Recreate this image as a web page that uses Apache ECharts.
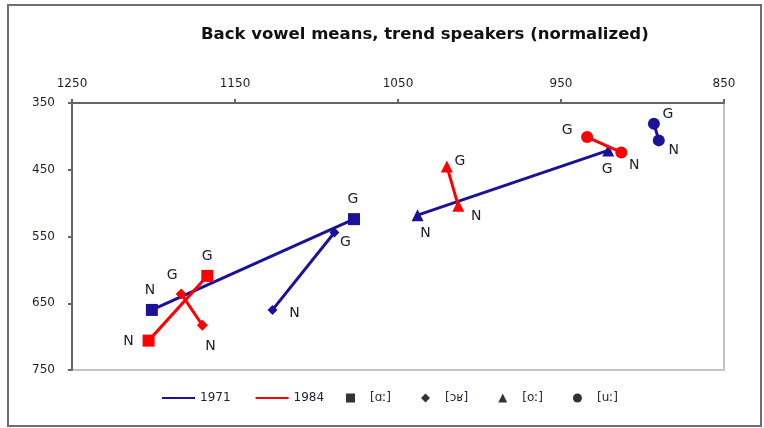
<!DOCTYPE html>
<html>
<head>
<meta charset="utf-8">
<script src="https://cdn.jsdelivr.net/npm/echarts@6/dist/echarts.min.js"></script>
<style>
  html, body { margin: 0; padding: 0; background: #fff; }
  #chart { width: 764px; height: 428px; }
</style>
</head>
<body>
<div id="chart"></div>
<script>
// vowels, in order: square, diamond, triangle, circle
const vowels = ['[ɑː]', '[ɔʁ]', '[oː]', '[uː]']
const years = ['1971', '1984']
const xTicks = [1250, 1150, 1050, 950, 850]
const yTicks = [350, 450, 550, 650, 750]

// [F2, F1] means; N = first point, G = second point
const n1971 = [[1201, 660], [1127, 660], [1038, 518], [890, 406]]
const g1971 = [[1077, 524], [1089, 544], [921, 421], [893, 381]]
const n1984 = [[1203, 706], [1170, 683], [1013, 504], [913, 424]]
const g1984 = [[1167, 609], [1183, 636], [1020, 445], [934, 401]]

const colors = { '1971': '#1c1297', '1984': '#ff0000' }
const symbols = ['rect', 'diamond', 'triangle', 'circle']
const sizes = {
  '1971': [12, 10, 12, 12],
  '1984': [12, 11, 12, 12]
}
// label offsets for N / G, per year and vowel
const labelOffsets = {
  '1971': [
    [[-2, -20], [-1, -20]],
    [[22, 3], [11, 10]],
    [[8, 18], [-1, 19]],
    [[15, 10], [14, -9]]
  ],
  '1984': [
    [[-20, 1], [0, -20]],
    [[8, 21], [-9, -19]],
    [[18, 11], [13, -5]],
    [[13, 13], [-20, -7]]
  ]
}

const labelStyle = {
  show: true,
  position: 'inside',
  fontFamily: 'DejaVu Sans',
  fontSize: 14,
  color: '#1e1e30'
}

let series = []
years.forEach(function (yr) {
  const nPts = yr === '1971' ? n1971 : n1984
  const gPts = yr === '1971' ? g1971 : g1984
  vowels.forEach(function (v, i) {
    const off = labelOffsets[yr][i]
    series.push({
      name: yr,
      type: 'line',
      symbol: symbols[i],
      symbolSize: sizes[yr][i],
      color: colors[yr],
      lineStyle: { width: 3, color: colors[yr] },
      itemStyle: { color: colors[yr] },
      z: yr === '1984' ? 3 : 2,
      data: [
        { value: nPts[i], label: Object.assign({ formatter: 'N', offset: off[0] }, labelStyle) },
        { value: gPts[i], label: Object.assign({ formatter: 'G', offset: off[1] }, labelStyle) }
      ]
    })
  })
})
// empty series, only for the symbol legend
vowels.forEach(function (v, i) {
  series.push({
    name: v,
    type: 'scatter',
    symbol: symbols[i],
    itemStyle: { color: '#000' },
    data: []
  })
})

const axisLabel = {
  fontFamily: 'DejaVu Sans', fontSize: 12, color: '#1e1e30',
  formatter: function (v) { return String(v) }
}

const option = {
  animation: false,
  backgroundColor: '#fff',
  title: {
    text: 'Back vowel means, trend speakers (normalized)',
    left: 196,
    top: 21,
    textStyle: { fontFamily: 'DejaVu Sans', fontWeight: 'bold', fontSize: 16.5, color: '#111' }
  },
  graphic: [{
    type: 'rect',
    shape: { x: 8, y: 5, width: 753, height: 421 },
    style: { fill: 'none', stroke: '#6f6f6f', lineWidth: 2 },
    silent: true
  }],
  grid: {
    left: 72, right: 40, top: 103, bottom: 58,
    show: true, borderColor: '#c4c4c4', borderWidth: 2
  },
  legend: [{
    data: years.map(function (y) { return { name: y, icon: 'rect' } }),
    left: 157, top: 387,
    itemWidth: 33, itemHeight: 2, itemGap: 25,
    selectedMode: false,
    textStyle: { fontFamily: 'DejaVu Sans', fontSize: 12, color: '#1e1e30' }
  }, {
    data: vowels,
    left: 341, top: 387,
    itemWidth: 9, itemHeight: 9, itemGap: 30,
    selectedMode: false,
    textStyle: { fontFamily: 'DejaVu Sans', fontSize: 12, color: '#2a2440', padding: [0, 0, 0, 10] }
  }],
  xAxis: {
    type: 'value',
    position: 'top',
    inverse: true,
    min: xTicks[4], max: xTicks[0], interval: 100,
    axisLine: { show: true, lineStyle: { color: '#666', width: 2 } },
    axisTick: { show: true, length: 4, lineStyle: { color: '#666', width: 2 } },
    axisLabel: Object.assign({ margin: 13 }, axisLabel),
    splitLine: { show: false }
  },
  yAxis: {
    type: 'value',
    inverse: true,
    min: yTicks[0], max: yTicks[4], interval: 100,
    axisLine: { show: true, lineStyle: { color: '#666', width: 2 } },
    axisTick: { show: true, length: 4, lineStyle: { color: '#666', width: 2 } },
    axisLabel: Object.assign({ margin: 17 }, axisLabel),
    splitLine: { show: false }
  },
  series: series
}

let myChart = echarts.init(document.getElementById('chart'))
myChart.setOption(option)
</script>
</body>
</html>
